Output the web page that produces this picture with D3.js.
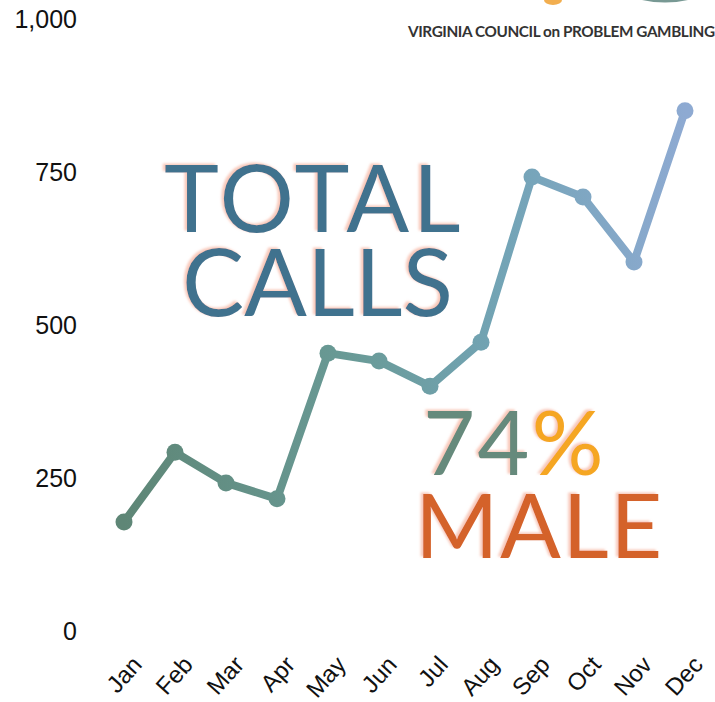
<!DOCTYPE html>
<html>
<head>
<meta charset="utf-8">
<script src="https://cdn.jsdelivr.net/npm/d3@7"></script>
<style>
  html, body { margin: 0; padding: 0; background: #fff; }
  svg { display: block; }
</style>
</head>
<body>
<svg id="chart" width="715" height="702"></svg>
<script>
const months = ["Jan","Feb","Mar","Apr","May","Jun","Jul","Aug","Sep","Oct","Nov","Dec"];
const calls = [178, 292, 242, 216, 454, 441, 400, 472, 742, 709, 603, 850];
const yTicks = [0, 250, 500, 750, 1000];

const svg = d3.select("#chart");

const x = d3.scalePoint().domain(months).range([124, 685]);
const y = d3.scaleLinear().domain([0, 1000]).range([631, 19]);

const defs = svg.append("defs");
const grad = defs.append("linearGradient")
  .attr("id", "lineGrad").attr("gradientUnits", "userSpaceOnUse")
  .attr("x1", x("Jan")).attr("x2", x("Dec")).attr("y1", 0).attr("y2", 0);
[[0, "#5e8676"], [0.4, "#699a96"], [0.68, "#73a4b6"], [1, "#8eaad2"]].forEach(s =>
  grad.append("stop").attr("offset", s[0]).attr("stop-color", s[1]));

const shadow = defs.append("filter").attr("id", "pinkShadow")
  .attr("x", "-10%").attr("y", "-10%").attr("width", "120%").attr("height", "120%");
shadow.append("feDropShadow").attr("dx", -2.5).attr("dy", -1.5).attr("stdDeviation", 1)
  .attr("flood-color", "#f7bfae").attr("flood-opacity", 0.85);

// Logo (faint shapes + name)
const logo = svg.append("g");
logo.append("ellipse").attr("cx", 553).attr("cy", 0).attr("rx", 9).attr("ry", 5)
  .attr("fill", "#f0a030").attr("opacity", 0.85);
logo.append("path").attr("d", "M642,0 Q665,5 688,0 Z").attr("fill", "#3f6e66").attr("opacity", 0.7);
logo.append("text").attr("x", 408).attr("y", 37)
  .attr("font-family", "Lato, sans-serif").attr("font-weight", 700).attr("font-size", 15.3)
  .attr("fill", "#333").attr("letter-spacing", -0.4)
  .text("VIRGINIA COUNCIL on PROBLEM GAMBLING");

// Y axis
const yAxis = d3.axisLeft(y).tickValues(yTicks).tickFormat(d3.format(",")).tickSize(0).tickPadding(0);
const yg = svg.append("g").attr("transform", "translate(77,0)").call(yAxis);
yg.select(".domain").remove();
yg.selectAll("text")
  .attr("font-family", "'Liberation Sans', Arial, sans-serif").attr("font-size", 25)
  .attr("fill", "#111");

// X axis
const xAxis = d3.axisBottom(x).tickSize(0).tickPadding(0);
const xg = svg.append("g").call(xAxis);
xg.select(".domain").remove();
xg.selectAll(".tick").attr("transform", d => `translate(${x(d) + 13},660)`);
xg.selectAll("text")
  .attr("font-family", "'Liberation Sans', Arial, sans-serif").attr("font-size", 24)
  .attr("fill", "#111").attr("text-anchor", "end").attr("dy", "0.35em").attr("y", 0)
  .attr("transform", "rotate(-48)");

// Big text
const big = svg.append("g").attr("font-family", "Lato, sans-serif").attr("font-weight", 400)
  .attr("filter", "url(#pinkShadow)");
big.append("text").attr("x", 164).attr("y", 232).attr("font-size", 93)
  .attr("letter-spacing", 3.5).attr("fill", "#41728e").text("TOTAL");
big.append("text").attr("x", 182).attr("y", 316).attr("font-size", 93)
  .attr("fill", "#41728e").text("CALLS");
const t74 = big.append("text").attr("x", 423).attr("y", 475).attr("font-size", 90)
  .attr("letter-spacing", 2);
t74.append("tspan").attr("fill", "#668a7c").text("74");
t74.append("tspan").attr("fill", "#f5a623").text("%");
big.append("text").attr("x", 415).attr("y", 558).attr("font-size", 90)
  .attr("letter-spacing", 1.5).attr("fill", "#d4622a").text("MALE");

// Line
const line = d3.line().x((d, i) => x(months[i])).y(d => y(d));
svg.append("path").datum(calls).attr("d", line)
  .attr("fill", "none").attr("stroke", "url(#lineGrad)").attr("stroke-width", 8)
  .attr("stroke-linejoin", "round");
svg.append("g").selectAll("circle").data(calls).join("circle")
  .attr("cx", (d, i) => x(months[i])).attr("cy", d => y(d)).attr("r", 8.5)
  .attr("fill", "url(#lineGrad)");
</script>
</body>
</html>
